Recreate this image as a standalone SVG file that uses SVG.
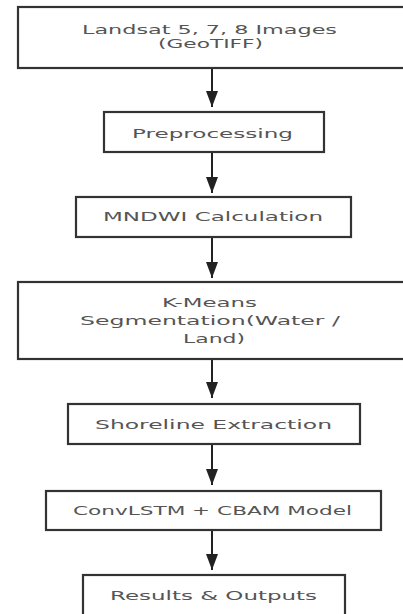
<svg xmlns="http://www.w3.org/2000/svg" width="403" height="614" viewBox="0 0 403 614">
<style>
.box{fill:#fff;stroke:#333;stroke-width:2.2}
.t{font-family:"DejaVu Sans",sans-serif;font-size:13px;fill:#555}
.c{stroke:#222;stroke-width:2;fill:none}
</style>
<defs>
<marker id="ah" markerUnits="userSpaceOnUse" markerWidth="18" markerHeight="12" refX="16" refY="6" orient="auto">
<path d="M0,0 L16,6 L0,12 Z" fill="#222"/>
</marker>
</defs>
<rect width="403" height="614" fill="#fff"/>
<g id="connectors">
<line class="c" x1="212" y1="69" x2="212" y2="107" marker-end="url(#ah)"/>
<line class="c" x1="212" y1="153" x2="212" y2="193" marker-end="url(#ah)"/>
<line class="c" x1="212" y1="238" x2="212" y2="278" marker-end="url(#ah)"/>
<line class="c" x1="212" y1="360" x2="212" y2="398" marker-end="url(#ah)"/>
<line class="c" x1="212" y1="445" x2="212" y2="485" marker-end="url(#ah)"/>
<line class="c" x1="212" y1="531" x2="212" y2="570" marker-end="url(#ah)"/>
</g>
<g id="n1">
<rect class="box" x="18" y="7" width="392" height="61"/>
<text class="t" x="82" y="34" textLength="255" lengthAdjust="spacingAndGlyphs">Landsat 5, 7, 8 Images</text>
<text class="t" x="158" y="48" textLength="105" lengthAdjust="spacingAndGlyphs">(GeoTIFF)</text>
</g>
<g id="n2">
<rect class="box" x="104" y="112" width="220" height="40"/>
<text class="t" x="132" y="138" textLength="161" lengthAdjust="spacingAndGlyphs">Preprocessing</text>
</g>
<g id="n3">
<rect class="box" x="76" y="197" width="275" height="40"/>
<text class="t" x="103" y="221" textLength="220" lengthAdjust="spacingAndGlyphs">MNDWI Calculation</text>
</g>
<g id="n4">
<rect class="box" x="18" y="282" width="392" height="77"/>
<text class="t" x="162" y="307" textLength="95" lengthAdjust="spacingAndGlyphs">K-Means</text>
<text class="t" x="80" y="325" textLength="260" lengthAdjust="spacingAndGlyphs">Segmentation(Water /</text>
<text class="t" x="183" y="343" textLength="62" lengthAdjust="spacingAndGlyphs">Land)</text>
</g>
<g id="n5">
<rect class="box" x="68" y="404" width="292" height="40"/>
<text class="t" x="95" y="429" textLength="237" lengthAdjust="spacingAndGlyphs">Shoreline Extraction</text>
</g>
<g id="n6">
<rect class="box" x="46" y="491" width="335" height="39"/>
<text class="t" x="73" y="515" textLength="279" lengthAdjust="spacingAndGlyphs">ConvLSTM + CBAM Model</text>
</g>
<g id="n7">
<rect class="box" x="83" y="575" width="262" height="45"/>
<text class="t" x="110" y="600" textLength="207" lengthAdjust="spacingAndGlyphs">Results &amp; Outputs</text>
</g>
</svg>
